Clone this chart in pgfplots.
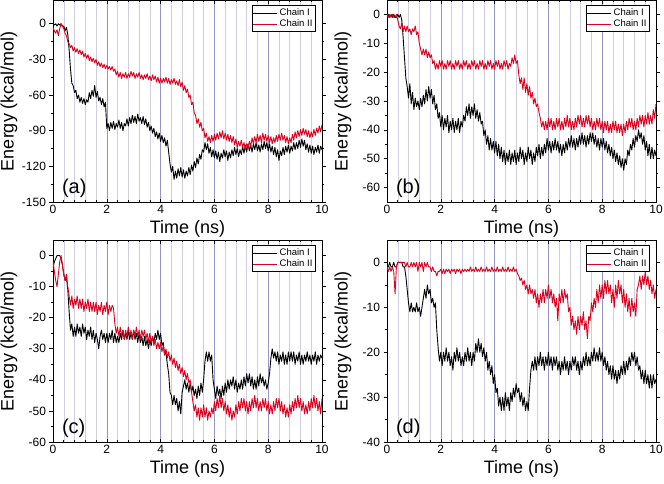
\documentclass[border=0pt]{standalone}
\usepackage{pgfplots}
\pgfplotsset{compat=1.18}
\usepackage{pgfplotstable}
\usepackage{fontspec}
\setmainfont{Liberation Sans}
\definecolor{cred}{RGB}{222,0,30}
\definecolor{majgrid}{RGB}{150,150,195}
\definecolor{mingrid}{RGB}{210,205,222}

\pgfplotstableread{
x b r
0.00 0 -3
0.05 -1 -6
0.10 0 -8
0.15 -2 -5
0.20 0 -10
0.25 -1 -4
0.30 0 0
0.35 -2 -2
0.40 -2 -4
0.45 -6 -8
0.50 -3 -10
0.55 -9 -15
0.60 -22 -17
0.65 -38 -20
0.70 -50 -18
0.75 -52 -23
0.80 -58 -20
0.85 -56 -24
0.90 -63 -21
0.95 -60 -25
1.00 -66 -22
1.05 -62 -26
1.10 -67 -23
1.15 -63 -28
1.20 -68 -25
1.25 -64 -29
1.30 -66 -26
1.35 -58 -31
1.40 -63 -28
1.45 -56 -32
1.50 -61 -29
1.55 -52 -33
1.60 -62 -30
1.65 -57 -35
1.70 -65 -32
1.75 -62 -36
1.80 -68 -33
1.85 -63 -37
1.90 -70 -34
1.95 -66 -38
2.00 -88 -35
2.05 -84 -38
2.10 -90 -36
2.15 -83 -39
2.20 -88 -36
2.25 -82 -40
2.30 -89 -38
2.35 -84 -43
2.40 -87 -40
2.45 -81 -45
2.50 -88 -41
2.55 -83 -46
2.60 -90 -42
2.65 -84 -45
2.70 -86 -41
2.75 -80 -46
2.80 -86 -42
2.85 -79 -45
2.90 -84 -40
2.95 -77 -44
3.00 -83 -41
3.05 -78 -46
3.10 -84 -42
3.15 -76 -45
3.20 -82 -41
3.25 -79 -46
3.30 -84 -43
3.35 -78 -47
3.40 -85 -43
3.45 -80 -46
3.50 -87 -42
3.55 -83 -47
3.60 -90 -44
3.65 -86 -48
3.70 -92 -43
3.75 -88 -47
3.80 -95 -44
3.85 -91 -49
3.90 -97 -45
3.95 -92 -50
4.00 -99 -46
4.05 -94 -50
4.10 -100 -46
4.15 -96 -49
4.20 -103 -45
4.25 -98 -50
4.30 -108 -46
4.35 -118 -51
4.40 -125 -47
4.45 -120 -50
4.50 -131 -46
4.55 -124 -51
4.60 -130 -48
4.65 -122 -52
4.70 -128 -47
4.75 -121 -53
4.80 -129 -49
4.85 -123 -56
4.90 -130 -52
4.95 -124 -58
5.00 -128 -55
5.05 -121 -62
5.10 -127 -60
5.15 -119 -68
5.20 -124 -66
5.25 -116 -75
5.30 -121 -77
5.35 -113 -84
5.40 -118 -80
5.45 -110 -87
5.50 -114 -83
5.55 -106 -90
5.60 -108 -88
5.65 -100 -96
5.70 -106 -92
5.75 -101 -99
5.80 -109 -95
5.85 -104 -100
5.90 -112 -94
5.95 -106 -99
6.00 -113 -93
6.05 -107 -98
6.10 -114 -92
6.15 -108 -97
6.20 -116 -91
6.25 -109 -96
6.30 -113 -90
6.35 -106 -97
6.40 -112 -92
6.45 -107 -98
6.50 -115 -93
6.55 -108 -99
6.60 -113 -94
6.65 -106 -100
6.70 -111 -95
6.75 -104 -102
6.80 -110 -97
6.85 -105 -104
6.90 -112 -99
6.95 -106 -103
7.00 -110 -98
7.05 -103 -104
7.10 -109 -100
7.15 -102 -106
7.20 -108 -101
7.25 -101 -105
7.30 -107 -99
7.35 -102 -103
7.40 -108 -96
7.45 -101 -101
7.50 -106 -95
7.55 -100 -100
7.60 -107 -93
7.65 -102 -99
7.70 -108 -94
7.75 -101 -100
7.80 -106 -92
7.85 -99 -98
7.90 -105 -93
7.95 -100 -99
8.00 -107 -94
8.05 -101 -100
8.10 -108 -95
8.15 -103 -101
8.20 -110 -96
8.25 -104 -100
8.30 -112 -94
8.35 -106 -99
8.40 -115 -93
8.45 -107 -98
8.50 -111 -92
8.55 -104 -98
8.60 -110 -94
8.65 -103 -100
8.70 -108 -95
8.75 -102 -101
8.80 -109 -96
8.85 -103 -100
8.90 -107 -93
8.95 -100 -98
9.00 -106 -91
9.05 -100 -96
9.10 -105 -90
9.15 -98 -95
9.20 -104 -89
9.25 -97 -94
9.30 -103 -88
9.35 -98 -93
9.40 -106 -89
9.45 -101 -95
9.50 -108 -90
9.55 -102 -96
9.60 -109 -91
9.65 -103 -95
9.70 -110 -89
9.75 -104 -94
9.80 -108 -88
9.85 -102 -92
9.90 -109 -86
9.95 -103 -91
10.00 -106 -85
}\tabA

\pgfplotstableread{
x b r
0.00 0 0
0.05 0 -1
0.10 -1 0
0.15 0 -1
0.20 -1 0
0.25 0 -1
0.30 -1 -1
0.35 -1 0
0.40 0 -2
0.45 -1 -4
0.50 0 -5
0.55 -2 -3
0.60 -8 -6
0.65 -15 -4
0.70 -22 -6
0.75 -25 -4
0.80 -29 -6
0.85 -24 -5
0.90 -31 -7
0.95 -27 -5
1.00 -33 -6
1.05 -29 -4
1.10 -32 -7
1.15 -30 -6
1.20 -33 -10
1.25 -29 -12
1.30 -32 -14
1.35 -28 -12
1.40 -31 -14
1.45 -26 -12
1.50 -30 -15
1.55 -25 -13
1.60 -29 -15
1.65 -26 -14
1.70 -31 -17
1.75 -28 -16
1.80 -33 -19
1.85 -31 -17
1.90 -36 -19
1.95 -34 -16
2.00 -39 -18
2.05 -35 -16
2.10 -40 -19
2.15 -36 -17
2.20 -39 -19
2.25 -35 -16
2.30 -41 -18
2.35 -37 -16
2.40 -40 -19
2.45 -36 -17
2.50 -41 -19
2.55 -37 -16
2.60 -40 -18
2.65 -36 -16
2.70 -41 -19
2.75 -37 -17
2.80 -39 -19
2.85 -35 -16
2.90 -37 -18
2.95 -32 -16
3.00 -35 -19
3.05 -31 -17
3.10 -36 -19
3.15 -32 -16
3.20 -35 -18
3.25 -31 -16
3.30 -36 -19
3.35 -33 -17
3.40 -37 -19
3.45 -34 -16
3.50 -38 -18
3.55 -37 -16
3.60 -42 -19
3.65 -40 -17
3.70 -45 -19
3.75 -42 -16
3.80 -47 -18
3.85 -43 -16
3.90 -47 -19
3.95 -44 -17
4.00 -48 -19
4.05 -44 -16
4.10 -49 -18
4.15 -45 -16
4.20 -50 -19
4.25 -46 -17
4.30 -51 -19
4.35 -47 -16
4.40 -52 -18
4.45 -48 -16
4.50 -51 -19
4.55 -47 -17
4.60 -52 -18
4.65 -48 -15
4.70 -51 -17
4.75 -47 -14
4.80 -52 -17
4.85 -48 -16
4.90 -51 -21
4.95 -46 -24
5.00 -50 -22
5.05 -47 -26
5.10 -52 -22
5.15 -48 -27
5.20 -51 -24
5.25 -46 -28
5.30 -50 -25
5.35 -47 -29
5.40 -52 -27
5.45 -48 -31
5.50 -51 -29
5.55 -46 -32
5.60 -49 -31
5.65 -45 -34
5.70 -50 -36
5.75 -46 -39
5.80 -49 -37
5.85 -45 -40
5.90 -48 -37
5.95 -43 -40
6.00 -47 -36
6.05 -44 -39
6.10 -48 -36
6.15 -44 -40
6.20 -47 -37
6.25 -43 -40
6.30 -47 -36
6.35 -44 -39
6.40 -48 -36
6.45 -45 -40
6.50 -49 -37
6.55 -45 -40
6.60 -48 -36
6.65 -44 -39
6.70 -47 -35
6.75 -43 -39
6.80 -46 -36
6.85 -42 -40
6.90 -46 -37
6.95 -43 -40
7.00 -47 -36
7.05 -43 -39
7.10 -46 -35
7.15 -42 -38
7.20 -45 -35
7.25 -41 -39
7.30 -45 -36
7.35 -42 -39
7.40 -46 -35
7.45 -42 -38
7.50 -45 -35
7.55 -41 -39
7.60 -44 -36
7.65 -41 -40
7.70 -45 -37
7.75 -42 -40
7.80 -46 -36
7.85 -43 -39
7.90 -47 -36
7.95 -43 -40
8.00 -46 -37
8.05 -43 -41
8.10 -47 -37
8.15 -44 -40
8.20 -48 -37
8.25 -45 -41
8.30 -49 -38
8.35 -46 -41
8.40 -50 -37
8.45 -47 -40
8.50 -51 -37
8.55 -48 -41
8.60 -52 -38
8.65 -49 -41
8.70 -53 -38
8.75 -50 -42
8.80 -54 -38
8.85 -50 -41
8.90 -52 -37
8.95 -47 -40
9.00 -49 -36
9.05 -45 -39
9.10 -47 -36
9.15 -43 -40
9.20 -46 -37
9.25 -42 -40
9.30 -44 -36
9.35 -40 -39
9.40 -43 -35
9.45 -41 -38
9.50 -45 -35
9.55 -42 -39
9.60 -47 -35
9.65 -44 -38
9.70 -49 -34
9.75 -45 -38
9.80 -50 -35
9.85 -46 -38
9.90 -50 -33
9.95 -47 -36
10.00 -49 -31
}\tabB

\pgfplotstableread{
x b r
0.00 -4 -2
0.05 -2 -5
0.10 -1 -8
0.15 0 -10
0.20 0 -6
0.25 0 -2
0.30 -1 0
0.35 -3 -3
0.40 -6 -6
0.45 -8 -8
0.50 -7 -6
0.55 -11 -10
0.60 -18 -13
0.65 -24 -16
0.70 -22 -13
0.75 -26 -17
0.80 -23 -14
0.85 -26 -16
0.90 -22 -13
0.95 -25 -17
1.00 -23 -14
1.05 -26 -17
1.10 -22 -14
1.15 -25 -18
1.20 -23 -15
1.25 -27 -17
1.30 -24 -14
1.35 -26 -18
1.40 -23 -15
1.45 -27 -18
1.50 -24 -15
1.55 -28 -18
1.60 -25 -15
1.65 -27 -19
1.70 -30 -16
1.75 -26 -18
1.80 -24 -15
1.85 -27 -19
1.90 -25 -16
1.95 -28 -18
2.00 -25 -15
2.05 -28 -19
2.10 -25 -16
2.15 -27 -18
2.20 -24 -16
2.25 -28 -17
2.30 -25 -22
2.35 -28 -25
2.40 -26 -23
2.45 -28 -26
2.50 -25 -23
2.55 -27 -26
2.60 -24 -24
2.65 -27 -27
2.70 -25 -24
2.75 -27 -26
2.80 -24 -23
2.85 -27 -26
2.90 -25 -24
2.95 -27 -27
3.00 -24 -24
3.05 -27 -26
3.10 -25 -23
3.15 -28 -26
3.20 -25 -24
3.25 -28 -27
3.30 -26 -24
3.35 -29 -26
3.40 -26 -24
3.45 -29 -27
3.50 -27 -25
3.55 -30 -28
3.60 -27 -25
3.65 -29 -28
3.70 -26 -26
3.75 -28 -29
3.80 -25 -27
3.85 -27 -30
3.90 -24 -28
3.95 -27 -30
4.00 -25 -28
4.05 -29 -31
4.10 -28 -29
4.15 -32 -32
4.20 -31 -30
4.25 -35 -33
4.30 -38 -31
4.35 -44 -34
4.40 -45 -32
4.45 -48 -35
4.50 -45 -33
4.55 -48 -36
4.60 -46 -34
4.65 -50 -37
4.70 -47 -35
4.75 -51 -38
4.80 -44 -36
4.85 -42 -39
4.90 -40 -37
4.95 -43 -40
5.00 -41 -38
5.05 -44 -41
5.10 -41 -40
5.15 -44 -44
5.20 -42 -47
5.25 -45 -50
5.30 -43 -48
5.35 -46 -52
5.40 -42 -49
5.45 -45 -53
5.50 -41 -49
5.55 -44 -52
5.60 -40 -48
5.65 -34 -52
5.70 -31 -49
5.75 -34 -53
5.80 -31 -50
5.85 -34 -52
5.90 -32 -49
5.95 -40 -51
6.00 -43 -47
6.05 -46 -50
6.10 -42 -46
6.15 -45 -49
6.20 -43 -45
6.25 -46 -49
6.30 -42 -46
6.35 -45 -50
6.40 -41 -47
6.45 -44 -51
6.50 -40 -48
6.55 -43 -52
6.60 -40 -49
6.65 -42 -53
6.70 -39 -50
6.75 -43 -52
6.80 -40 -48
6.85 -44 -51
6.90 -41 -47
6.95 -43 -50
7.00 -40 -46
7.05 -43 -49
7.10 -39 -46
7.15 -42 -50
7.20 -38 -47
7.25 -41 -51
7.30 -38 -47
7.35 -42 -50
7.40 -39 -46
7.45 -43 -49
7.50 -40 -45
7.55 -43 -49
7.60 -39 -46
7.65 -42 -50
7.70 -38 -47
7.75 -41 -50
7.80 -39 -46
7.85 -42 -49
7.90 -40 -46
7.95 -43 -50
8.00 -41 -47
8.05 -38 -51
8.10 -33 -48
8.15 -30 -51
8.20 -33 -47
8.25 -31 -50
8.30 -34 -46
8.35 -31 -49
8.40 -35 -46
8.45 -32 -50
8.50 -34 -47
8.55 -31 -51
8.60 -35 -48
8.65 -32 -52
8.70 -35 -49
8.75 -31 -52
8.80 -34 -48
8.85 -31 -51
8.90 -34 -47
8.95 -31 -50
9.00 -35 -46
9.05 -32 -49
9.10 -34 -45
9.15 -31 -49
9.20 -35 -46
9.25 -32 -50
9.30 -35 -47
9.35 -32 -51
9.40 -34 -48
9.45 -31 -51
9.50 -34 -47
9.55 -32 -50
9.60 -35 -46
9.65 -32 -49
9.70 -34 -45
9.75 -31 -49
9.80 -35 -46
9.85 -32 -50
9.90 -34 -47
9.95 -32 -51
10.00 -33 -46
}\tabC

\pgfplotstableread{
x b r
0.00 -1 -1
0.05 -1 -2
0.10 0 -1
0.15 -1 -2
0.20 -1 -1
0.25 0 -2
0.30 -1 -7
0.35 -1 -1
0.40 0 0
0.45 0 0
0.50 0 0
0.55 0 0
0.60 -1 0
0.65 -1 0
0.70 -3 -1
0.75 -6 0
0.80 -9 -1
0.85 -11 -1
0.90 -9 0
0.95 -11 -1
1.00 -10 0
1.05 -11 -1
1.10 -9 0
1.15 -11 -2
1.20 -10 0
1.25 -12 -1
1.30 -10 0
1.35 -8 -2
1.40 -6 0
1.45 -8 -1
1.50 -5 0
1.55 -7 -1
1.60 -6 -1
1.65 -9 -2
1.70 -8 -1
1.75 -10 -2
1.80 -9 -2
1.85 -15 -3
1.90 -19 -2
1.95 -22 -2
2.00 -20 -1.5
2.05 -23 -2.5
2.10 -20 -1.5
2.15 -22 -2.5
2.20 -19 -1.5
2.25 -22 -2
2.30 -20 -1.5
2.35 -23 -2.5
2.40 -21 -1.5
2.45 -24 -2
2.50 -20 -1.5
2.55 -22 -2.5
2.60 -19 -1.5
2.65 -22 -2
2.70 -20 -1.5
2.75 -23 -2.5
2.80 -21 -1.5
2.85 -23 -2
2.90 -20 -1.5
2.95 -22 -2
3.00 -19 -1.5
3.05 -22 -2
3.10 -20 -1
3.15 -23 -2
3.20 -20 -1.5
3.25 -22 -2
3.30 -18 -1
3.35 -20 -2
3.40 -17 -1.5
3.45 -20 -2
3.50 -18 -1
3.55 -21 -2
3.60 -19 -1.5
3.65 -22 -2
3.70 -20 -1
3.75 -24 -2
3.80 -22 -1.5
3.85 -25 -2
3.90 -23 -1
3.95 -27 -2
4.00 -25 -1.5
4.05 -29 -2
4.10 -28 -1
4.15 -32 -2
4.20 -30 -1.5
4.25 -33 -2
4.30 -30 -1
4.35 -33 -2
4.40 -29 -1.5
4.45 -32 -2
4.50 -30 -1
4.55 -33 -2
4.60 -29 -1.5
4.65 -31 -2
4.70 -28 -1
4.75 -30 -2
4.80 -27 -1.5
4.85 -29 -2.5
4.90 -28 -3
4.95 -31 -4
5.00 -29 -3.5
5.05 -32 -5
5.10 -30 -4
5.15 -33 -6
5.20 -31 -5
5.25 -33 -7
5.30 -28 -5
5.35 -24 -7
5.40 -22 -6
5.45 -24 -8
5.50 -21 -6
5.55 -24 -9
5.60 -21 -7
5.65 -23 -10
5.70 -20 -7
5.75 -23 -9
5.80 -21 -6
5.85 -24 -9
5.90 -21 -6
5.95 -23 -8
6.00 -20 -5
6.05 -23 -8
6.10 -21 -6
6.15 -24 -9
6.20 -21 -7
6.25 -23 -10
6.30 -21 -8
6.35 -24 -13
6.40 -22 -7
6.45 -25 -9
6.50 -22 -6
6.55 -24 -9
6.60 -21 -6
6.65 -24 -8
6.70 -22 -7
6.75 -25 -11
6.80 -22 -10
6.85 -24 -14
6.90 -21 -12
6.95 -23 -15
7.00 -21 -13
7.05 -24 -16
7.10 -22 -12
7.15 -25 -15
7.20 -22 -12
7.25 -24 -14
7.30 -21 -11
7.35 -23 -15
7.40 -20 -13
7.45 -23 -17
7.50 -21 -12
7.55 -23 -13
7.60 -20 -9
7.65 -22 -11
7.70 -19 -8
7.75 -22 -10
7.80 -20 -6
7.85 -22 -9
7.90 -19 -5
7.95 -22 -8
8.00 -20 -5
8.05 -23 -8
8.10 -21 -4
8.15 -24 -7
8.20 -22 -4
8.25 -25 -7
8.30 -23 -5
8.35 -26 -9
8.40 -23 -6
8.45 -26 -10
8.50 -24 -5
8.55 -27 -8
8.60 -24 -4
8.65 -26 -7
8.70 -23 -5
8.75 -25 -9
8.80 -22 -6
8.85 -25 -10
8.90 -22 -7
8.95 -24 -11
9.00 -21 -8
9.05 -23 -12
9.10 -20 -8
9.15 -22 -11
9.20 -20 -9
9.25 -23 -12
9.30 -21 -6
9.35 -24 -5
9.40 -23 -3
9.45 -26 -6
9.50 -24 -3
9.55 -27 -5
9.60 -24 -2
9.65 -27 -5
9.70 -25 -3
9.75 -28 -6
9.80 -25 -4
9.85 -28 -7
9.90 -25 -5
9.95 -27 -8
10.00 -26 -6
}\tabD

\pgfplotsset{
 legend image code/.code={\draw[#1, line width=0.5pt] (0pt,0pt) -- (24pt,0pt);},
 panel/.style={
  scale only axis, width=269pt, height=202pt,
  anchor=south west,
  xmin=0, xmax=10, xtick={0,2,...,10}, minor x tick num=4,
  minor y tick num=1,
  xmajorgrids, xminorgrids,
  major grid style={majgrid, line width=0.5pt},
  minor grid style={mingrid, line width=0.5pt},
  xtick align=inside, ytick align=outside,
  major tick length=3.5pt, minor tick length=2pt,
  tick style={black, line width=0.6pt},
  axis line style={line width=0.9pt},
  ticklabel style={font=\fontsize{12}{14}\selectfont},
  /pgf/number format/assume math mode=true,
  xlabel={Time (ns)}, ylabel={Energy (kcal/mol)},
  label style={font=\fontsize{18}{20}\selectfont},
  xlabel style={at={(axis description cs:0.5,-0.135)}, anchor=center},
  ylabel style={at={(axis description cs:-0.164,0.5)}, anchor=center},
  legend style={at={(0.978,0.975)}, anchor=north east,
    font=\fontsize{9.5}{10}\selectfont, draw=black, line width=0.9pt,
    inner sep=1.2pt, row sep=-1pt, legend cell align=left},
 },
 blk/.style={black, line width=0.9pt, line join=round},
 rd/.style={cred, line width=0.9pt, line join=round},
}

\begin{document}
\begin{tikzpicture}
\useasboundingbox (0,0) rectangle (664pt,483pt);

\begin{axis}[panel, at={(53pt,281pt)}, ymin=-150, ymax=20, ytick={0,-30,...,-150}]
\addplot[blk] table[x=x,y=b] {\tabA};
\addplot[rd] table[x=x,y=r] {\tabA};
\legend{Chain I, Chain II}
\node[anchor=south west, inner sep=0pt, font=\fontsize{20}{22}\selectfont] at (rel axis cs:0.033,0.02) {(a)};
\end{axis}

\begin{axis}[panel, at={(387pt,281pt)}, ymin=-65, ymax=5, ytick={0,-10,...,-60}]
\addplot[blk] table[x=x,y=b] {\tabB};
\addplot[rd] table[x=x,y=r] {\tabB};
\legend{Chain I, Chain II}
\node[anchor=south west, inner sep=0pt, font=\fontsize{20}{22}\selectfont] at (rel axis cs:0.033,0.02) {(b)};
\end{axis}

\begin{axis}[panel, at={(53pt,41pt)}, ymin=-60, ymax=5, ytick={0,-10,...,-60}]
\addplot[blk] table[x=x,y=b] {\tabC};
\addplot[rd] table[x=x,y=r] {\tabC};
\legend{Chain I, Chain II}
\node[anchor=south west, inner sep=0pt, font=\fontsize{20}{22}\selectfont] at (rel axis cs:0.033,0.02) {(c)};
\end{axis}

\begin{axis}[panel, at={(387pt,41pt)}, ymin=-40, ymax=5, ytick={0,-10,...,-40}]
\addplot[blk] table[x=x,y=b] {\tabD};
\addplot[rd] table[x=x,y=r] {\tabD};
\legend{Chain I, Chain II}
\node[anchor=south west, inner sep=0pt, font=\fontsize{20}{22}\selectfont] at (rel axis cs:0.033,0.02) {(d)};
\end{axis}
\end{tikzpicture}
\end{document}
